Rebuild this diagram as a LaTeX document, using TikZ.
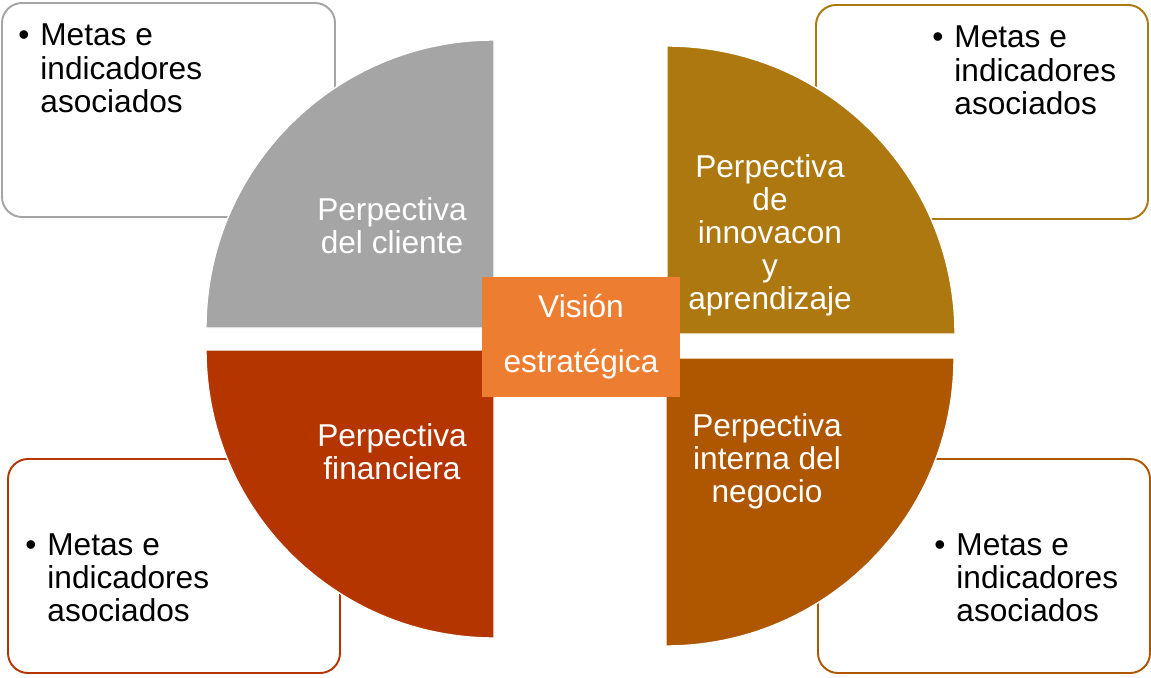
\documentclass[tikz,border=0pt]{standalone}
\usepackage{fontspec}
\setmainfont{Liberation Sans}
\usepackage{tikz}
\definecolor{clientegray}{HTML}{A5A5A5}
\definecolor{innovgold}{HTML}{AD7810}
\definecolor{finanred}{HTML}{B43500}
\definecolor{negociobrown}{HTML}{AF5600}
\definecolor{visionorange}{HTML}{ED7D31}

\begin{document}
\begin{tikzpicture}[x=0.02cm, y=0.02cm,
  goalbox/.style={draw, line width=1.1pt, rounded corners=0.4cm, fill=white},
  quarter/.style={draw=white, line width=0.8pt},
  perspective/.style={text=white, align=center, inner sep=0pt,
    font=\fontsize{18}{18.8}\selectfont},
  goaltext/.style={anchor=base west, inner sep=0pt,
    font=\fontsize{18}{18.8}\selectfont}]
  \useasboundingbox (0,0) rectangle (1151,677);

  % boxes
  \draw[goalbox, draw=clientegray] (2,460) rectangle (335,674);
  \draw[goalbox, draw=innovgold] (816,458) rectangle (1148,672);
  \draw[goalbox, draw=finanred] (8,4) rectangle (340,218);
  \draw[goalbox, draw=negociobrown] (818,4) rectangle (1150,218);

  \node[goaltext] (metascliente) at (18,631)
    {\begin{tabular}[t]{@{}l@{\hspace{0.22cm}}l@{}}\textbullet & Metas e\\ & indicadores\\ & asociados\end{tabular}};
  \node[goaltext] (metasinnov) at (932,629)
    {\begin{tabular}[t]{@{}l@{\hspace{0.22cm}}l@{}}\textbullet & Metas e\\ & indicadores\\ & asociados\end{tabular}};
  \node[goaltext] (metasfinan) at (25,122)
    {\begin{tabular}[t]{@{}l@{\hspace{0.22cm}}l@{}}\textbullet & Metas e\\ & indicadores\\ & asociados\end{tabular}};
  \node[goaltext] (metasnegocio) at (934,122)
    {\begin{tabular}[t]{@{}l@{\hspace{0.22cm}}l@{}}\textbullet & Metas e\\ & indicadores\\ & asociados\end{tabular}};

  % quarters
  \fill[quarter, fill=clientegray] (494,349) -- (206,349)
    arc[start angle=180, end angle=90, radius=288] -- cycle;
  \fill[quarter, fill=innovgold] (667,343) -- (667,631)
    arc[start angle=90, end angle=0, radius=288] -- cycle;
  \fill[quarter, fill=finanred] (494,327) -- (206,327)
    arc[start angle=180, end angle=270, radius=288] -- cycle;
  \fill[quarter, fill=negociobrown] (666,319) -- (954,319)
    arc[start angle=0, end angle=-90, radius=288] -- cycle;

  \node[perspective] (cliente) at (392,451) {Perpectiva\\del cliente};
  \node[perspective] (innov) at (770,442) {Perpectiva\\de\\innovacon\\y\\aprendizaje};
  \node[perspective] (finan) at (392,225) {Perpectiva\\financiera};
  \node[perspective] (negocio) at (767,216) {Perpectiva\\interna del\\negocio};

  % center
  \node[fill=visionorange, minimum width=3.96cm, minimum height=2.4cm, inner sep=0pt,
    text=white, align=center, font=\fontsize{18}{31.3}\selectfont]
    (vision) at (581,340) {Visión\\estratégica};
\end{tikzpicture}
\end{document}
